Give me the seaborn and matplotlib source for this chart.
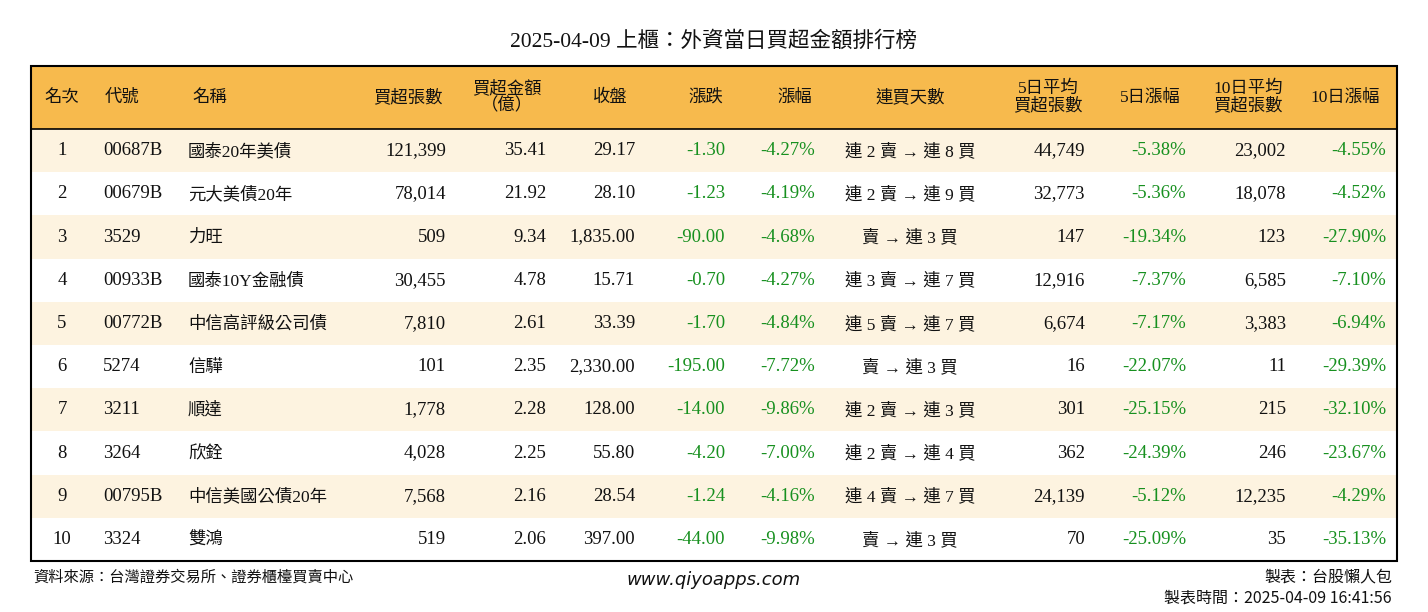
import matplotlib
matplotlib.use("Agg")
import matplotlib.pyplot as plt
import seaborn as sns
from matplotlib.patches import Rectangle

sns.set_theme(style="white")

title = "2025-04-09 上櫃：外資當日買超金額排行榜"
headers = ["名次", "代號", "名稱", "買超張數", "買超金額\n（億）", "收盤", "漲跌", "漲幅",
           "連買天數", "5日平均\n買超張數", "5日漲幅", "10日平均\n買超張數", "10日漲幅"]
ranks = ["1", "2", "3", "4", "5", "6", "7", "8", "9", "10"]
codes = ["00687B", "00679B", "3529", "00933B", "00772B", "5274", "3211", "3264", "00795B", "3324"]
names = ["國泰20年美債", "元大美債20年", "力旺", "國泰10Y金融債", "中信高評級公司債", "信驊", "順達", "欣銓", "中信美國公債20年", "雙鴻"]
buy_lots = ["121,399", "78,014", "509", "30,455", "7,810", "101", "1,778", "4,028", "7,568", "519"]
buy_amt = ["35.41", "21.92", "9.34", "4.78", "2.61", "2.35", "2.28", "2.25", "2.16", "2.06"]
close = ["29.17", "28.10", "1,835.00", "15.71", "33.39", "2,330.00", "128.00", "55.80", "28.54", "397.00"]
change = ["-1.30", "-1.23", "-90.00", "-0.70", "-1.70", "-195.00", "-14.00", "-4.20", "-1.24", "-44.00"]
pct = ["-4.27%", "-4.19%", "-4.68%", "-4.27%", "-4.84%", "-7.72%", "-9.86%", "-7.00%", "-4.16%", "-9.98%"]
streak = ["連 2 賣 → 連 8 買", "連 2 賣 → 連 9 買", "賣 → 連 3 買", "連 3 賣 → 連 7 買", "連 5 賣 → 連 7 買",
          "賣 → 連 3 買", "連 2 賣 → 連 3 買", "連 2 賣 → 連 4 買", "連 4 賣 → 連 7 買", "賣 → 連 3 買"]
avg5 = ["44,749", "32,773", "147", "12,916", "6,674", "16", "301", "362", "24,139", "70"]
pct5 = ["-5.38%", "-5.36%", "-19.34%", "-7.37%", "-7.17%", "-22.07%", "-25.15%", "-24.39%", "-5.12%", "-25.09%"]
avg10 = ["23,002", "18,078", "123", "6,585", "3,383", "11", "215", "246", "12,235", "35"]
pct10 = ["-4.55%", "-4.52%", "-27.90%", "-7.10%", "-6.94%", "-29.39%", "-32.10%", "-23.67%", "-4.29%", "-35.13%"]

CJK = "Noto Sans CJK TC"
SERIF = "Liberation Serif"
GREEN = "#17901f"

fig = plt.figure(figsize=(14.28, 6.12), dpi=100)
ax = fig.add_axes([0, 0, 1, 1])
ax.set_xlim(0, 1428)
ax.set_ylim(612, 0)
ax.axis("off")

ax.text(714, 42, title, ha="center", va="center", fontsize=15.5, fontfamily=[SERIF, CJK], color="#111")

L, R, T, HB, B = 31, 1397, 66, 129, 561
ax.add_patch(Rectangle((L, T), R - L, HB - T, facecolor="#F7BA4D", edgecolor="none"))
rh = (B - HB) / len(ranks)
for i in range(len(ranks)):
    if i % 2 == 0:
        ax.add_patch(Rectangle((L, HB + i * rh), R - L, rh, facecolor="#FDF3E0", edgecolor="none"))
ax.add_patch(Rectangle((L, T), R - L, B - T, facecolor="none", edgecolor="black", lw=1.5))
ax.plot([L, R], [HB, HB], color="black", lw=1.2)

hx = [62, 122, 210, 408, 507, 610, 706, 795, 910, 1048, 1150, 1248, 1345]
hy = (T + HB) / 2
for x, h in zip(hx, headers):
    ax.text(x, hy, h, ha="center", va="center", fontsize=12.5, fontfamily=[SERIF, CJK], color="#111", linespacing=1.0)

cols = [
    (ranks, 62, "center", SERIF, False),
    (codes, 103, "left", SERIF, False),
    (names, 188, "left", CJK, False),
    (buy_lots, 446, "right", SERIF, False),
    (buy_amt, 546, "right", SERIF, False),
    (close, 635, "right", SERIF, False),
    (change, 725, "right", SERIF, True),
    (pct, 815, "right", SERIF, True),
    (streak, 910, "center", CJK, False),
    (avg5, 1085, "right", SERIF, False),
    (pct5, 1186, "right", SERIF, True),
    (avg10, 1286, "right", SERIF, False),
    (pct10, 1386, "right", SERIF, True),
]
for i in range(len(ranks)):
    y = HB + (i + 0.5) * rh
    for data, x, ha, fam, colored in cols:
        c = GREEN if colored else "#111"
        if fam == CJK:
            ax.text(x, y + 1, data[i], ha=ha, va="center", fontsize=12.5, fontfamily=[SERIF, CJK], color=c)
        else:
            ax.text(x, y, data[i], ha=ha, va="center", fontsize=13.5, fontfamily=fam, color=c)

ax.text(33, 577, "資料來源：台灣證券交易所、證券櫃檯買賣中心", ha="left", va="center", fontsize=11, fontfamily=CJK, color="#111")
ax.text(714, 580, "www.qiyoapps.com", ha="center", va="center", fontsize=13, fontstyle="italic", fontfamily="DejaVu Sans", color="#111")
ax.text(1392, 577, "製表：台股懶人包", ha="right", va="center", fontsize=11.5, fontfamily=CJK, color="#111")
ax.text(1392, 598, "製表時間：2025-04-09 16:41:56", ha="right", va="center", fontsize=11.5, fontfamily=CJK, color="#111")

fig.savefig("out.png", dpi=100)
